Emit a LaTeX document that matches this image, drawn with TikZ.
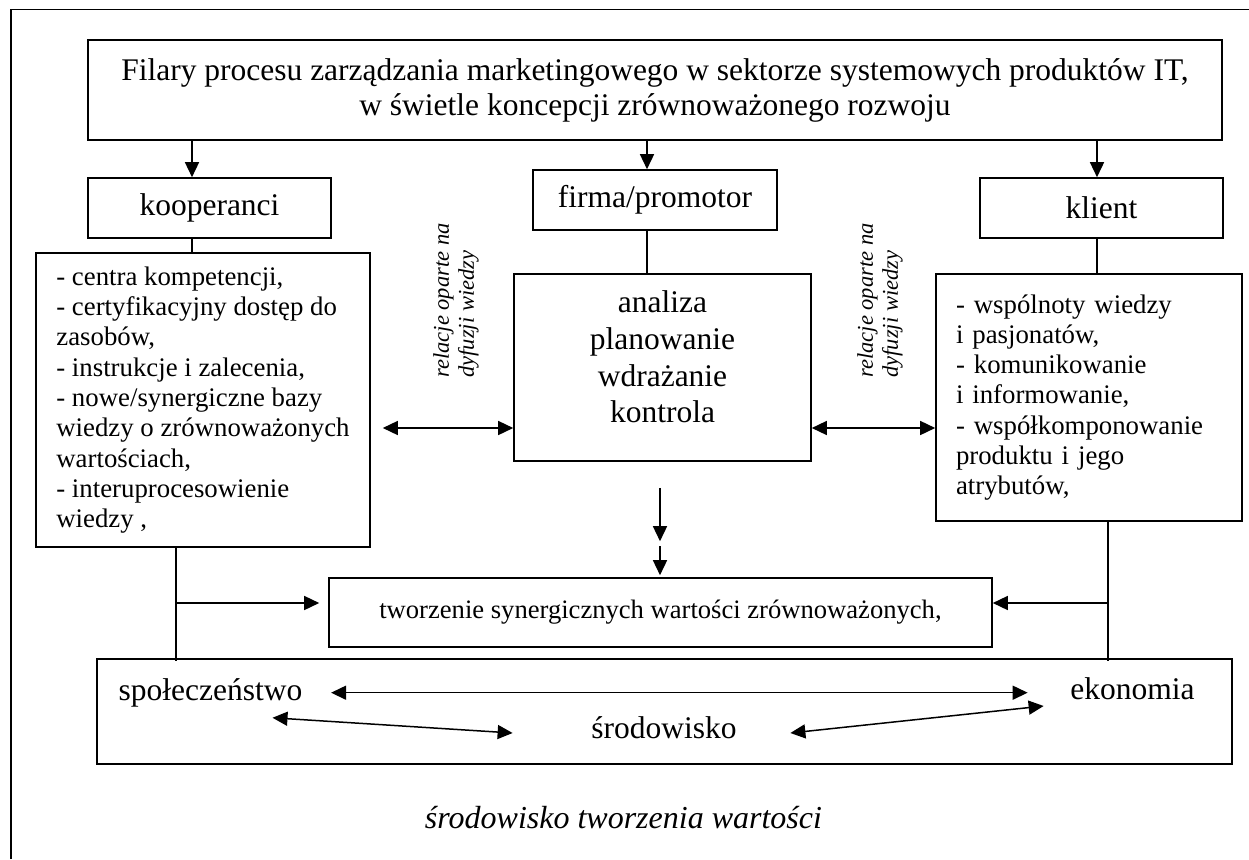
\documentclass[tikz,border=0pt]{standalone}
\usepackage{fontspec}
\setmainfont{Liberation Serif}
\usetikzlibrary{arrows.meta}

\begin{document}
\begin{tikzpicture}[x=1pt, y=-1pt, line width=1.5pt,
    >={Triangle[length=15pt,width=14pt]},
    box/.style={draw, rectangle, inner sep=0pt, line width=1.6pt},
    big/.style={font=\fontsize{31.5}{35}\selectfont},
    list/.style={box, align=left, inner xsep=20pt, font=\fontsize{26.8}{30.3}\selectfont},
    rel/.style={rotate=90, align=left, font=\fontsize{22.5}{25}\selectfont\itshape}]
    \useasboundingbox (0,0) rectangle (1249,859);

    % ramka
    \draw[line width=1.8pt] (10.7,859) -- (10.7,9.5) -- (1249,9.5);

    % tytul i trzy filary
    \node[box, big, align=center, minimum width=1134pt, minimum height=100pt] (title) at (655,90)
        {Filary procesu zarządzania marketingowego w sektorze systemowych produktów IT,\\
         w świetle koncepcji zrównoważonego rozwoju};
    \node[box, big, minimum width=243pt, minimum height=60pt] (koop) at (209.5,208) {kooperanci};
    \node[box, big, minimum width=244pt, minimum height=60pt] (firma) at (655,200) {firma/promotor};
    \node[box, big, minimum width=243pt, minimum height=60pt] (klient) at (1101.5,208) {klient};

    % listy
    \node[list, minimum width=334pt, minimum height=294pt] (kooplist) at (203,400)
        {- centra kompetencji,\\
         - certyfikacyjny dostęp do\\
         zasobów,\\
         - instrukcje i zalecenia,\\
         - nowe/synergiczne bazy\\
         wiedzy o zrównoważonych\\
         wartościach,\\
         - interuprocesowienie\\
         wiedzy ,};
    \node[list, text width=266pt, minimum height=247pt] (klist) at (1089,397.5)
        {- wspólnoty wiedzy\\
         i pasjonatów,\\
         - komunikowanie\\
         i informowanie,\\
         - współkomponowanie\\
         produktu i jego\\
         atrybutów,};

    % srodek
    \node[box, minimum width=297pt, minimum height=187pt] (central) at (662.5,367.5) {};
    \node[align=center, font=\fontsize{31.5}{36.7}\selectfont] (centraltxt) at (662.5,357)
        {analiza\\planowanie\\wdrażanie\\kontrola};
    \node[rel] (rell) at (456,300.5) {relacje oparte na\\dyfuzji wiedzy};
    \node[rel] (relr) at (880,300.5) {relacje oparte na\\dyfuzji wiedzy};

    % wartosci i srodowisko
    \node[box, minimum width=663pt, minimum height=69pt, font=\fontsize{26.6}{30}\selectfont] (tworz) at (660.5,612.5)
        {tworzenie synergicznych wartości zrównoważonych,};
    \node[box, minimum width=1135pt, minimum height=105pt] (bottom) at (664.5,711.5) {};
    \node[big, inner sep=0pt] (spol) at (210.5,692.7) {społeczeństwo};
    \node[big, inner sep=0pt] (ekon) at (1132.5,689) {ekonomia};
    \node[big, inner sep=0pt] (srod) at (664,728) {środowisko};
    \node[font=\fontsize{32}{36}\selectfont\itshape] (footer) at (623.5,818) {środowisko tworzenia wartości};

    \coordinate (kx) at (192,0);
    \coordinate (fx) at (647,0);
    \coordinate (cx) at (1097,0);
    \coordinate (dx) at (660,0);
    \coordinate (lx) at (176,0);
    \coordinate (rx) at (1108,0);
    \coordinate (ty) at (0,603);
    \coordinate (ry) at (0,428);

    % strzalki z tytulu
    \draw[->] (kx |- title.south) -- (kx |- koop.north);
    \draw[->] (fx |- title.south) -- (fx |- firma.north);
    \draw[->] (cx |- title.south) -- (cx |- klient.north);
    \draw (kx |- koop.south) -- (kx |- kooplist.north);
    \draw (fx |- firma.south) -- (fx |- central.north);
    \draw (cx |- klient.south) -- (cx |- klist.north);

    % relacje
    \draw[<->] ([xshift=12pt]kooplist.east |- ry) -- (central.west |- ry);
    \draw[<->] (central.east |- ry) -- (klist.west |- ry);

    % w dol
    \draw[->] ([yshift=-26pt]dx |- central.south) -- ([yshift=36pt]dx |- tworz.north);
    \draw[->] ([yshift=31pt]dx |- tworz.north) -- ([yshift=2pt]dx |- tworz.north);
    \draw (lx |- kooplist.south) -- ([yshift=-3pt]lx |- bottom.north);
    \draw[->] (lx |- ty) -- ([xshift=-9pt]tworz.west |- ty);
    \draw (rx |- klist.south) -- ([yshift=-3pt]rx |- bottom.north);
    \draw[->] (rx |- ty) -- (tworz.east |- ty);

    % spoleczenstwo - ekonomia - srodowisko
    \draw[<->] ([xshift=28pt]spol.east) -- ([xshift=-42pt]spol.east -| ekon.west);
    \draw[<->] ([xshift=62pt,yshift=-10pt]spol.south) -- ([xshift=-78pt,yshift=-5pt]srod.west);
    \draw[<->] ([xshift=53pt,yshift=-5pt]srod.east) -- ([xshift=-26pt,yshift=-17pt]ekon.west);
\end{tikzpicture}
\end{document}
